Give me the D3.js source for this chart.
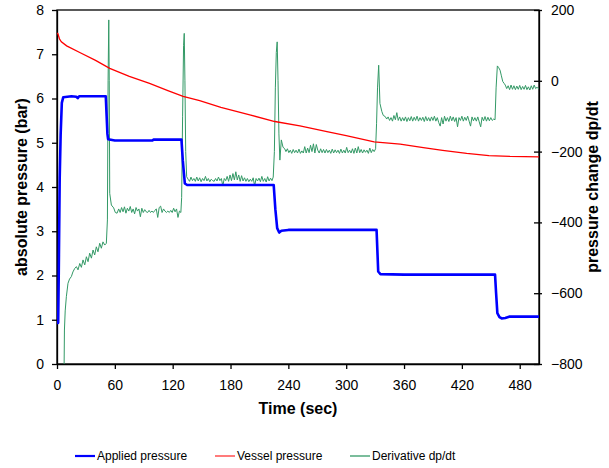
<!DOCTYPE html>
<html>
<head>
<meta charset="utf-8">
<script src="https://d3js.org/d3.v7.min.js"></script>
<style>
  body { margin: 0; background: #fff; }
  svg { font-family: "Liberation Sans", Arial, sans-serif; }
  .axis path, .axis line { stroke: #000; stroke-width: 1.3; }
  .axis text { font-size: 14px; fill: #000; }
</style>
</head>
<body>
<div id="chart"></div>
<script>
// values
const xTicks = [0, 60, 120, 180, 240, 300, 360, 420, 480];
const leftTicks = [0, 1, 2, 3, 4, 5, 6, 7, 8];
const rightTicks = [-800, -600, -400, -200, 0, 200];

// [time (sec), bar]
const applied = [
  [0, 0.93], [1.2, 0.93], [1.8, 2.0], [2.8, 4.2], [3.8, 5.2], [5, 5.9], [6.5, 6.03],
  [15, 6.05], [20, 6.04], [21.5, 6.01], [23, 6.05], [50.6, 6.05], [51.5, 5.6],
  [52.3, 5.2], [53, 5.08], [60, 5.05], [99, 5.05], [100, 5.07], [129.1, 5.07],
  [130.5, 4.6], [132.6, 4.08], [135, 4.045], [224.8, 4.045], [226.5, 3.5],
  [228.4, 3.07], [230.5, 2.97], [232.8, 3.01], [240, 3.03], [331.5, 3.03],
  [333.2, 2.09], [335.5, 2.03], [360, 2.02], [454.4, 2.02], [455.5, 1.6],
  [456.8, 1.15], [459, 1.06], [461.3, 1.03], [465, 1.04], [469, 1.07], [500, 1.07]
];

// [time (sec), bar]
const vessel = [
  [0, 7.48], [1, 7.46], [2.5, 7.35], [4.5, 7.28], [10, 7.19], [23.6, 7.04], [40, 6.86],
  [54.7, 6.68], [75, 6.5], [96, 6.34], [115, 6.18], [130.8, 6.05], [148, 5.95],
  [170, 5.8], [200, 5.63], [226, 5.48], [252, 5.38], [280, 5.25], [300, 5.16],
  [329, 5.02], [356, 4.97], [380, 4.89], [400, 4.83], [425, 4.76], [448, 4.71],
  [470, 4.69], [500, 4.68]
];

// [time (sec), dp/dt]
const derivative = [
  [7.3, -830], [7.7, -704], [8.5, -650], [9.7, -610], [11.4, -572], [13, -560], [14.9, -553],
  [16.5, -540], [18.4, -530], [20.1, -525], [21.8, -534], [23.6, -516], [25.3, -527],
  [27, -506], [28.8, -520], [30.5, -497], [32.2, -511], [33.9, -487], [35.7, -501],
  [37.4, -478], [39.1, -492], [40.8, -469], [42.5, -483], [44.3, -459], [46, -473],
  [47.7, -455], [49.5, -464], [51.2, -459], [52.3, -393], [53, 0], [53.7, 172], [54.2, 0],
  [54.7, -318], [56.4, -351], [58.8, -359], [60.5, -372], [62.3, -374],
  [64, -362], [65.5, -372], [67, -358], [68.5, -370], [70, -356], [71.5, -374], [73, -360],
  [74.5, -368], [76, -355], [77.5, -372], [79, -362], [80.5, -376], [82, -358], [83.5, -368],
  [85, -362], [86.5, -384], [88, -360], [89.5, -372], [91, -364], [92.5, -370], [94, -372],
  [95.5, -366], [97, -372], [98.5, -368], [100, -372], [101.5, -366], [103, -362],
  [104.5, -386], [106, -358], [107.5, -354], [109, -372], [110.5, -362], [112, -368],
  [113.5, -372], [115, -368], [116.5, -372], [118, -366], [119.5, -372], [121, -360],
  [122.5, -370], [124, -362], [125.5, -386], [127, -368], [128.5, -372], [129.3, -330],
  [130.3, -100], [131.3, 100], [132, 134], [132.7, 0], [133.5, -200], [134.5, -271],
  [136, -278], [137.5, -284],
  [139, -272], [140.5, -282], [142, -276], [143.5, -284], [145, -272], [146.5, -283],
  [148, -274], [149.5, -285], [151, -276], [152.5, -282], [154, -270], [155.5, -283],
  [157, -276], [158.5, -285], [160, -278], [161.5, -282], [163, -284], [164.5, -276],
  [166, -283], [167.5, -272], [169, -282], [170.5, -276], [172, -297], [173.5, -276],
  [175, -282], [176.5, -270], [178, -284], [179.5, -266], [181, -282], [182.5, -262],
  [184, -280], [185.5, -257], [187, -280], [188.5, -266], [190, -284], [191.5, -268],
  [193, -283], [194.5, -274], [196, -284], [197.5, -276], [199, -285], [200.5, -278],
  [202, -284], [203.5, -274], [205, -297], [206.5, -276], [208, -283], [209.5, -275],
  [211, -285], [212.5, -270], [214, -284], [215.5, -276], [217, -286], [218.5, -271],
  [220, -283], [221.5, -275], [223, -282], [224.3, -272], [225.5, -200], [226.5, -20],
  [227.5, 80], [228.4, 110], [229.3, 0], [230.2, -150], [231.2, -224], [232.7, -167],
  [234.5, -188], [236, -191],
  [237.5, -200], [239, -192], [240.5, -203], [242, -196], [243.5, -205], [245, -194],
  [246.5, -203], [248, -196], [249.5, -204], [251, -193], [252.5, -205], [254, -198],
  [255.5, -204], [257, -186], [258.5, -204], [260, -190], [261.5, -203], [263, -182],
  [264.5, -200], [266, -178], [267.5, -204], [269, -180], [270.5, -196], [272, -204],
  [273.5, -192], [275, -203], [276.5, -194], [278, -204], [279.5, -194], [281, -203],
  [282.5, -196], [284, -205], [285.5, -193], [287, -204], [288.5, -195], [290, -203],
  [291.5, -196], [293, -205], [294.5, -193], [296, -204], [297.5, -196], [299, -204],
  [300.5, -188], [302, -203], [303.5, -196], [305, -204], [306.5, -192], [308, -205],
  [309.5, -190], [311, -204], [312.5, -186], [314, -203], [315.5, -194], [317, -204],
  [318.5, -195], [320, -202], [321.5, -196], [323, -205], [324.5, -190], [326, -203],
  [327.5, -194], [329, -200], [330.5, -192], [331.5, -120], [332.5, -20], [333.7, 44],
  [335, -64], [337, -87], [338.5, -98], [340.5, -101],
  [342, -108], [343.5, -102], [345, -112], [346.5, -104], [348, -114], [349.5, -98],
  [351, -110], [352.5, -90], [354, -112], [355.5, -102], [357, -114], [358.5, -104],
  [360, -113], [361.5, -102], [363, -115], [364.5, -104], [366, -113], [367.5, -101],
  [369, -114], [370.5, -103], [372, -112], [373.5, -100], [375, -114], [376.5, -104],
  [378, -112], [379.5, -103], [381, -115], [382.5, -101], [384, -113], [385.5, -104],
  [387, -114], [388.5, -102], [390, -112], [391.5, -100], [393, -114], [394.5, -104],
  [396, -118], [397.5, -128], [399, -104], [400.5, -122], [402, -100], [403.5, -114],
  [405, -104], [406.5, -115], [408, -100], [409.5, -113], [411, -102], [412.5, -115],
  [414, -104], [415.5, -130], [417, -104], [418.5, -112], [420, -100], [421.5, -114],
  [423, -103], [424.5, -112], [426, -100], [427.5, -114], [429, -128], [430.5, -102],
  [432, -113], [433.5, -104], [435, -114], [436.5, -102], [438, -116], [439.5, -130],
  [441, -103], [442.5, -113], [444, -101], [445.5, -114], [447, -103], [448.5, -113],
  [450, -104], [451.5, -112], [453, -108], [454.4, -110], [455.5, -20], [456.8, 42],
  [458, 38], [459.6, 30], [461, 14], [462.4, -2], [464, -8], [465, -12],
  [466.5, -22], [468, -14], [469.5, -25], [471, -12], [472.5, -24], [474, -14],
  [475.5, -25], [477, -15], [478.5, -24], [480, -13], [481.5, -25], [483, -16],
  [484.5, -24], [486, -13], [487.5, -25], [489, -17], [490.5, -26], [492, -14],
  [493.5, -24], [495, -12], [496.5, -22], [498, -18], [500, -24]
];

const legendItems = [
  { name: "Applied pressure", color: "#0000ff", width: 2.2 },
  { name: "Vessel pressure", color: "#ff3333", width: 1.3 },
  { name: "Derivative dp/dt", color: "#339966", width: 1.3 }
];

const W = 609, H = 468;
const margin = { top: 10, right: 70, bottom: 104, left: 57 };
const width = W - margin.left - margin.right;
const height = H - margin.top - margin.bottom;

const svg = d3.select("#chart").append("svg")
  .attr("width", W)
  .attr("height", H);

const g = svg.append("g")
  .attr("transform", `translate(${margin.left},${margin.top})`);

const x = d3.scaleLinear().domain([0, 500]).range([0, width]);
const yL = d3.scaleLinear().domain([0, 8]).range([height, 0]);
const yR = d3.scaleLinear().domain([-800, 200]).range([height, 0]);

g.append("clipPath").attr("id", "plot")
  .append("rect").attr("width", width).attr("height", height);

// frame
g.append("rect")
  .attr("width", width)
  .attr("height", height)
  .attr("fill", "none")
  .attr("stroke", "#000")
  .attr("stroke-width", 1.3);

g.append("g")
  .attr("class", "axis")
  .attr("transform", `translate(0,${height})`)
  .call(d3.axisBottom(x).tickValues(xTicks).tickSize(5).tickSizeOuter(0).tickPadding(11));

g.append("g")
  .attr("class", "axis")
  .call(d3.axisLeft(yL).tickValues(leftTicks).tickSize(5).tickSizeOuter(0).tickPadding(8));

const right = g.append("g")
  .attr("class", "axis")
  .attr("transform", `translate(${width},0)`)
  .call(d3.axisRight(yR).tickValues(rightTicks).tickSize(3).tickSizeOuter(0).tickPadding(9));
right.selectAll(".tick line").attr("x1", -5);

const lineL = d3.line().x(d => x(d[0])).y(d => yL(d[1]));
const lineR = d3.line().x(d => x(d[0])).y(d => yR(d[1]));

const plot = g.append("g").attr("clip-path", "url(#plot)");

plot.append("path")
  .datum(derivative)
  .attr("d", lineR)
  .attr("fill", "none")
  .attr("stroke", "#339966")
  .attr("stroke-width", 1);

plot.append("path")
  .datum(vessel)
  .attr("d", lineL)
  .attr("fill", "none")
  .attr("stroke", "#ff0000")
  .attr("stroke-width", 1.3);

plot.append("path")
  .datum(applied)
  .attr("d", lineL)
  .attr("fill", "none")
  .attr("stroke", "#0000ff")
  .attr("stroke-width", 2.6)
  .attr("stroke-linejoin", "round");

// axis titles
svg.append("text")
  .attr("x", margin.left + width / 2)
  .attr("y", 414)
  .attr("text-anchor", "middle")
  .attr("font-size", 16)
  .attr("font-weight", "bold")
  .text("Time (sec)");

svg.append("text")
  .attr("transform", `translate(26.5,${margin.top + height / 2}) rotate(-90)`)
  .attr("text-anchor", "middle")
  .attr("font-size", 16)
  .attr("font-weight", "bold")
  .text("absolute pressure (bar)");

svg.append("text")
  .attr("transform", `translate(598,${margin.top + height / 2}) rotate(-90)`)
  .attr("text-anchor", "middle")
  .attr("font-size", 16)
  .attr("font-weight", "bold")
  .text("pressure change dp/dt");

// legend
const legendX = [75, 215, 350];
const legend = svg.append("g").attr("transform", "translate(0,456)");
legendItems.forEach((item, i) => {
  const lg = legend.append("g").attr("transform", `translate(${legendX[i]},0)`);
  lg.append("line")
    .attr("x1", 0).attr("x2", 20)
    .attr("stroke", item.color)
    .attr("stroke-width", item.width);
  lg.append("text")
    .attr("x", 22)
    .attr("dy", "0.35em")
    .attr("font-size", 12)
    .text(item.name);
});
</script>
</body>
</html>
